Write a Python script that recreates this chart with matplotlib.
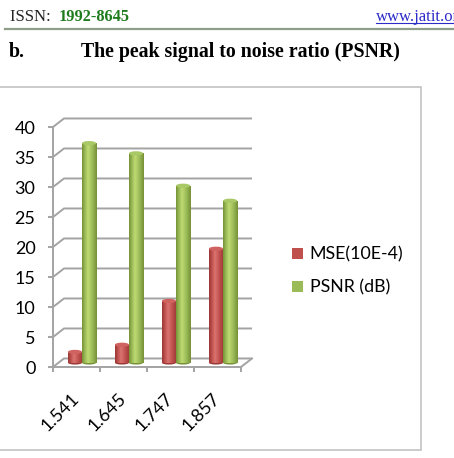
"""Grouped cylinder-style bar chart: MSE and PSNR against four settings.

Mimics an Excel 3-D clustered column chart pasted into a journal page:
a side/back wall with grey gridlines, cylinder bars with a shaded body
and a lighter top cap, and the page header / section title above it.
"""
import matplotlib
matplotlib.use("Agg")
import matplotlib.pyplot as plt
import numpy as np
from matplotlib.colors import LinearSegmentedColormap
from matplotlib.lines import Line2D
from matplotlib.patches import Ellipse, Patch, Rectangle

CATEGORIES = ["1.541", "1.645", "1.747", "1.857"]
MSE = [1.8, 3.0, 10.3, 19.0]
PSNR = [36.6, 34.9, 29.5, 27.0]
SERIES_NAMES = ["MSE(10E-4)", "PSNR (dB)"]
Y_TICKS = [0, 5, 10, 15, 20, 25, 30, 35, 40]

RED = "#C0504D"
GREEN = "#9BBB59"
GRID = "#A3A3A3"
W, H = 454, 458  # figure size in pixels

# depth of the pseudo 3-D box, in data units (about 11 px right, 8.5 px up)
DX = 0.234
DY = 1.42
BAR_W = 0.3


def fx(px):
    return px / W


def fy(py):
    return 1 - py / H


def shaded_cmap(base, light, dark):
    return LinearSegmentedColormap.from_list(
        "cyl", [dark, base, light, base, dark], N=64)


def cylinder(ax, x, value, colour, light, dark, cap):
    """One bar with a shaded body and an elliptical top cap."""
    bottom = DY / 2
    bar = ax.bar(x, value, BAR_W, bottom=bottom, color=colour,
                 linewidth=0, zorder=3)[0]
    grad = np.linspace(0, 1, 64).reshape(1, -1)
    grad = np.interp(grad, [0, 0.4, 1], [0, 0.5, 1])
    img = ax.imshow(grad, extent=[x - BAR_W / 2, x + BAR_W / 2,
                                  bottom, bottom + value],
                    aspect="auto", cmap=shaded_cmap(colour, light, dark),
                    zorder=3.5, interpolation="bilinear")
    img.set_clip_path(bar)
    ax.add_patch(Ellipse((x, bottom), BAR_W, 0.6, color=dark, zorder=2.9,
                         linewidth=0))
    ax.add_patch(Ellipse((x, bottom + value), BAR_W, 0.7, color=cap,
                         zorder=4, linewidth=0))


def main():
    fig = plt.figure(figsize=(W / 100, H / 100), dpi=100)
    font = "Lato"

    # ---- page header ----
    fig.text(fx(10), fy(21), "ISSN: ", family="Liberation Serif",
             fontsize=12, va="baseline", color="#222222")
    fig.text(fx(59), fy(21), "1992-8645", family="Liberation Serif",
             fontsize=11.8, va="baseline", weight="bold", color="#1E7B1E")
    fig.text(fx(376), fy(21), "www.jatit.org", family="Liberation Serif",
             fontsize=12, va="baseline", color="#2B2BC8")
    fig.add_artist(Line2D([fx(376), fx(460)], [fy(23), fy(23)],
                          color="#2B2BC8", linewidth=0.8))
    fig.add_artist(Line2D([fx(5), fx(460)], [fy(28.5), fy(28.5)],
                          color="#8E9E88", linewidth=1.6))
    fig.text(fx(9), fy(57), "b.", family="Liberation Serif",
             fontsize=14.3, va="baseline", weight="bold")
    fig.text(fx(81), fy(57), "The peak signal to noise ratio (PSNR)",
             family="Liberation Serif", fontsize=14.3, va="baseline",
             weight="bold")

    # ---- chart area border (left edge runs off the page) ----
    fig.add_artist(Rectangle((fx(-5), fy(450)), fx(425.5), fy(86.5) - fy(450),
                             transform=fig.transFigure, fill=False,
                             edgecolor="#BDBDBD", linewidth=1.1))

    # axes = front plane of the 3-D box
    ax = fig.add_axes([fx(53), fy(367), fx(188), fy(127) - fy(367)])
    ax.patch.set_visible(False)
    n = len(CATEGORIES)
    x = np.arange(n)
    x0, x1 = -0.5, n - 0.5

    # side wall diagonals + back wall gridlines
    for v in Y_TICKS:
        ax.plot([x0, x0 + DX, x1 + DX], [v, v + DY, v + DY], color=GRID,
                linewidth=1.4, zorder=1, clip_on=False,
                solid_capstyle="butt")
    # right edge of the floor
    ax.plot([x1, x1 + DX], [0, DY], color=GRID, linewidth=1.4, zorder=1,
            clip_on=False)

    for i in range(n):
        cylinder(ax, x[i] - BAR_W / 2 + DX / 2, MSE[i], RED,
                 "#DA7572", "#9A3936", "#D0625F")
        cylinder(ax, x[i] + BAR_W / 2 + DX / 2, PSNR[i], GREEN,
                 "#BFDA72", "#779236", "#A9C866")

    ax.set_xlim(x0, x1)
    ax.set_ylim(0, 40)
    for side in ("top", "right"):
        ax.spines[side].set_visible(False)
    for side in ("left", "bottom"):
        ax.spines[side].set_color(GRID)
        ax.spines[side].set_linewidth(1.4)

    ax.set_yticks(Y_TICKS)
    ax.set_yticklabels([str(v) for v in Y_TICKS], family=font, fontsize=13)
    ax.tick_params(axis="y", direction="out", length=3.6, width=1.4,
                   color=GRID, pad=9)

    ax.set_xticks(x)
    ax.set_xticklabels(CATEGORIES, family=font, fontsize=13, rotation=45,
                       ha="right", va="center", rotation_mode="anchor")
    ax.set_xticks(np.arange(n + 1) - 0.5, minor=True)
    ax.tick_params(axis="x", which="major", length=0, pad=21)
    ax.tick_params(axis="x", which="minor", direction="out", length=3.6,
                   width=1.4, color=GRID)

    handles = [Patch(facecolor=RED), Patch(facecolor=GREEN)]
    fig.legend(handles, SERIES_NAMES, loc="center left",
               bbox_to_anchor=(fx(276), fy(271)), frameon=False,
               prop={"family": font, "size": 12.8}, handlelength=0.6,
               handleheight=0.6, handletextpad=0.4, labelspacing=0.95)

    fig.savefig("out.png", dpi=100)


if __name__ == "__main__":
    main()
